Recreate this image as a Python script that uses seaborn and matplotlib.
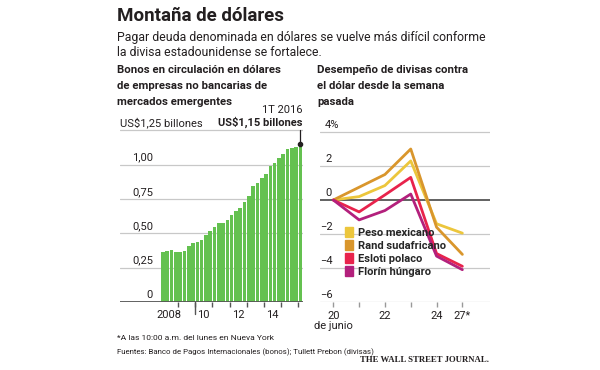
import pandas as pd
import matplotlib
matplotlib.use("Agg")
import matplotlib.pyplot as plt
import seaborn as sns
from matplotlib.patches import Patch

# Bonos en circulación, 1T 2008 - 1T 2016 (billones de US$)
trimestres = [f"{a}T{q}" for a in range(2008, 2017) for q in range(1, 5)][:33]
bonos = [0.365, 0.372, 0.380, 0.366, 0.365, 0.372, 0.410, 0.428, 0.440, 0.455,
         0.485, 0.515, 0.545, 0.575, 0.575, 0.600, 0.630, 0.660, 0.685, 0.730,
         0.770, 0.845, 0.865, 0.900, 0.935, 0.990, 1.010, 1.050, 1.075, 1.115,
         1.125, 1.130, 1.150]
anios_pos = [1.5, 9.5, 17.5, 25.5]
anios_lbl = ["2008", "10", "12", "14"]
bonos_ticks = [0, 0.25, 0.50, 0.75, 1.00, 1.25]
bonos_tick_lbl = ["0", "0,25", "0,50", "0,75", "1,00", "US$1,25 billones"]

# Desempeño de divisas contra el dólar (%)
dias = ["20", "21", "22", "23", "24", "27"]
peso = [0, 0.20, 0.85, 2.30, -1.40, -1.95]
rand = [0, 0.75, 1.50, 3.00, -1.60, -3.20]
esloti = [0, -0.70, 0.30, 1.33, -3.15, -3.90]
florin = [0, -1.17, -0.62, 0.35, -3.30, -4.10]
divisas = ["Peso mexicano", "Rand sudafricano", "Esloti polaco", "Florín húngaro"]
div_ticks = [-6, -4, -2, 0, 2, 4]
div_tick_lbl = ["−6", "−4", "−2", "0", "2", "4%"]
dias_lbl = {0: "20\nde junio", 2: "22", 4: "24", 5: "27*"}

verde = "#64c150"
colores = ["#ecc63c", "#d9962c", "#e8234c", "#b3207c"]
gris = "#c8c8c8"
texto = "#231f20"

sns.set_theme(style="white")
plt.rcParams["font.family"] = ["Roboto", "DejaVu Sans"]

W, H = 600, 370
fig = plt.figure(figsize=(6, 3.7), dpi=100)


def px(x, y):
    return x / W, 1 - y / H


def caja(x0, y0, x1, y1):
    return [x0 / W, 1 - y1 / H, (x1 - x0) / W, (y1 - y0) / H]


# Textos de cabecera
fig.text(*px(117, 16), "Montaña de dólares", fontsize=13.5, fontweight="bold",
         color=texto, va="center")
fig.text(*px(117, 37), "Pagar deuda denominada en dólares se vuelve más difícil conforme",
         fontsize=8.85, color=texto, va="center")
fig.text(*px(117, 52), "la divisa estadounidense se fortalece.", fontsize=8.85,
         color=texto, va="center")
for i, (izq, der) in enumerate(zip(
        ["Bonos en circulación en dólares", "de empresas no bancarias de", "mercados emergentes"],
        ["Desempeño de divisas contra", "el dólar desde la semana", "pasada"])):
    fig.text(*px(117, 70 + 16 * i), izq, fontsize=8.2, fontweight="bold",
             color=texto, va="center")
    fig.text(*px(317, 70 + 16 * i), der, fontsize=8.2, fontweight="bold",
             color=texto, va="center")

# --- Barras ---
ax1 = fig.add_axes(caja(120, 123.5, 303, 302))
df_b = pd.DataFrame({"trimestre": trimestres, "valor": bonos})
sns.barplot(data=df_b, x="trimestre", y="valor", order=trimestres, color=verde,
            saturation=1, width=0.84, linewidth=0, ax=ax1, zorder=2)
ax1.set_xlim(-10, 32.6)
ax1.set_ylim(0, 1.30)
for v, lbl in zip(bonos_ticks, bonos_tick_lbl):
    if v > 0:
        ax1.axhline(v, color=gris, lw=0.9, zorder=0)
    if v < 1.2:
        ax1.annotate(lbl, xy=(0.18, v), xycoords=("axes fraction", "data"),
                     xytext=(0, 1.5), textcoords="offset points", ha="right",
                     va="bottom", fontsize=8, color=texto)
    else:
        ax1.annotate(lbl, xy=(0, v), xycoords=("axes fraction", "data"),
                     xytext=(0, 1.5), textcoords="offset points", ha="left",
                     va="bottom", fontsize=8, color=texto)
ax1.axhline(0, color="#555555", lw=1.3, zorder=3)
ax1.set_xticks([p - 0.5 for p in range(4, 33, 4)])
ax1.set_xticklabels([])
ax1.tick_params(axis="x", length=3.5, width=1, color="#555555", bottom=True)
ax1.set_yticks([])
ax1.set_xlabel("")
ax1.set_ylabel("")
for p, lbl in zip(anios_pos, anios_lbl):
    ax1.annotate(lbl, xy=(p, 0), xycoords="data", xytext=(0, -6),
                 textcoords="offset points", ha="center", va="top", fontsize=8,
                 color=texto)
ax1.plot([7.5, 7.5], [0, -0.09], color="#555555", lw=1, clip_on=False)
# anotación último dato
ax1.plot([32, 32], [bonos[-1], 1.255], color=texto, lw=0.9, zorder=4)
ax1.plot([32], [bonos[-1]], "o", color=texto, ms=3, zorder=5)
ax1.annotate("US$1,15 billones", xy=(1, 1.25), xycoords=("axes fraction", "data"),
             xytext=(0, 1.5), textcoords="offset points", ha="right", va="bottom",
             fontsize=8, fontweight="bold", color=texto)
ax1.annotate("1T 2016", xy=(1, 1.25), xycoords=("axes fraction", "data"),
             xytext=(0, 11), textcoords="offset points", ha="right", va="bottom",
             fontsize=8, color=texto)
sns.despine(ax=ax1, left=True, bottom=True)

# --- Líneas ---
ax2 = fig.add_axes(caja(320, 121.8, 490, 302))
df_d = pd.DataFrame({
    "pos": list(range(len(dias))) * 4,
    "valor": peso + rand + esloti + florin,
    "divisa": [d for d in divisas for _ in dias],
})
for v, lbl in zip(div_ticks, div_tick_lbl):
    ax2.axhline(v, color="#555555" if v == 0 else gris, lw=1.3 if v == 0 else 0.9,
                zorder=0 if v != 0 else 1)
    x0 = 0.0 if lbl.startswith("−") else 0.03
    ax2.annotate(lbl, xy=(x0, v), xycoords=("axes fraction", "data"),
                 xytext=(0, 1.5), textcoords="offset points", ha="left",
                 va="bottom", fontsize=8, color=texto)
sns.lineplot(data=df_d, x="pos", y="valor", hue="divisa", hue_order=divisas,
             palette=colores, lw=2, ax=ax2, legend=False, zorder=3)
ax2.set_xlim(-0.515, 6.07)
ax2.set_ylim(-6, 4.6)
ax2.set_yticks([])
ax2.set_xticks(range(len(dias)))
ax2.set_xticklabels([dias_lbl.get(i, "") for i in range(len(dias))],
                    fontsize=8, color=texto, linespacing=1.0)
ax2.tick_params(axis="x", length=3.5, width=1, color="#999999", bottom=True, pad=3)
ax2.set_xlabel("")
ax2.set_ylabel("")
sns.despine(ax=ax2, left=True, bottom=True)
handles = [Patch(color=c, label=d) for c, d in zip(colores, divisas)]
ax2.legend(handles=handles, loc="upper left", bbox_to_anchor=(0.12, 0.44),
           frameon=False, handlelength=0.75, handleheight=1.0,
           handletextpad=0.45, labelspacing=0.2, borderaxespad=0,
           prop={"weight": "bold", "size": 8})

# Pie
fig.text(*px(117, 338), "*A las 10:00 a.m. del lunes en Nueva York", fontsize=6.1,
         color=texto, va="center")
fig.text(*px(117, 352), "Fuentes: Banco de Pagos Internacionales (bonos); Tullett Prebon (divisas)",
         fontsize=5.7, color=texto, va="center")
fig.text(*px(489, 360), "THE WALL STREET JOURNAL.", fontsize=6.3, fontweight="bold",
         family="Liberation Serif", color=texto, ha="right", va="center")

fig.savefig("out.png", dpi=100, facecolor="white")
